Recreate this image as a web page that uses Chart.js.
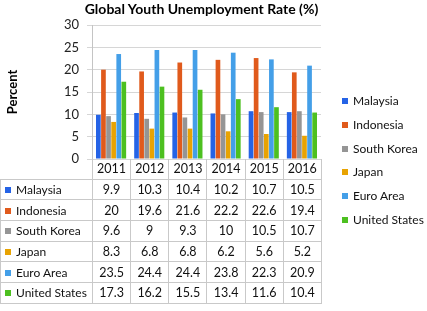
<!DOCTYPE html>
<html lang="en">
<head>
    <meta charset="UTF-8">
    <title>Global Youth Unemployment Rate (%)</title>
    <script src="https://cdn.jsdelivr.net/npm/chart.js@4.4.0/dist/chart.umd.min.js"></script>
    <style>
        body {
            margin: 0;
            background: #ffffff;
            font-family: Lato, "Open Sans", sans-serif;
        }
        #wrap {
            position: relative;
            width: 427px;
            height: 311px;
            overflow: hidden;
        }
        #title {
            position: absolute;
            left: 0;
            width: 403px;
            top: 0;
            text-align: center;
            font-weight: bold;
            font-size: 14px;
            line-height: 18px;
            color: #000;
        }
        #chartBox {
            position: absolute;
            left: 0;
            top: 0;
            width: 427px;
            height: 311px;
        }
        #dataTable {
            position: absolute;
            left: 0;
            top: 159px;
            border-collapse: collapse;
            table-layout: fixed;
            font-size: 12.5px;
            color: #111;
        }
        #dataTable td {
            border: 1px solid #c9c9c9;
            padding: 0;
            height: 19.7px;
            text-align: center;
            white-space: nowrap;
            overflow: hidden;
        }
        #dataTable td.name {
            text-align: left;
            padding-left: 4px;
            font-size: 12px;
        }
        #dataTable tr.head td {
            border-top: none;
        }
        #dataTable td.corner {
            border-left: none;
        }
        .swatch {
            display: inline-block;
            width: 6px;
            height: 6px;
            margin-right: 5px;
            vertical-align: 1px;
        }
        #legend {
            position: absolute;
            left: 342px;
            top: 91px;
            margin: 0;
            padding: 0;
            list-style: none;
            font-size: 12px;
            color: #111;
        }
        #legend li {
            height: 23.8px;
            line-height: 20px;
            white-space: nowrap;
        }
    </style>
</head>
<body>
<div id="wrap">
    <div id="chartBox"><canvas id="youthChart"></canvas></div>
    <div id="title">Global Youth Unemployment Rate (%)</div>
    <table id="dataTable"></table>
    <ul id="legend"></ul>
</div>
<script>
    const years = ['2011', '2012', '2013', '2014', '2015', '2016'];
    const malaysia = [9.9, 10.3, 10.4, 10.2, 10.7, 10.5];
    const indonesia = [20, 19.6, 21.6, 22.2, 22.6, 19.4];
    const southKorea = [9.6, 9, 9.3, 10, 10.5, 10.7];
    const japan = [8.3, 6.8, 6.8, 6.2, 5.6, 5.2];
    const euroArea = [23.5, 24.4, 24.4, 23.8, 22.3, 20.9];
    const unitedStates = [17.3, 16.2, 15.5, 13.4, 11.6, 10.4];
    const yTicks = [0, 5, 10, 15, 20, 25, 30];

    const seriesNames = ['Malaysia', 'Indonesia', 'South Korea', 'Japan', 'Euro Area', 'United States'];
    const seriesData = [malaysia, indonesia, southKorea, japan, euroArea, unitedStates];
    const seriesColors = ['#2563e6', '#e05a1c', '#959595', '#e8a302', '#449fe8', '#4dc020'];

    const datasets = seriesNames.map((name, i) => ({
        label: name,
        data: seriesData[i],
        backgroundColor: seriesColors[i],
        borderWidth: 0,
        categoryPercentage: 0.8,
        barPercentage: 0.92
    }));

    const ctx = document.getElementById('youthChart').getContext('2d');
    const youthChart = new Chart(ctx, {
        type: 'bar',
        data: { labels: years, datasets: datasets },
        options: {
            responsive: true,
            maintainAspectRatio: false,
            animation: false,
            layout: {
                padding: { left: 0, top: 25, right: 106, bottom: 152 }
            },
            plugins: {
                legend: { display: false },
                title: { display: false },
                tooltip: { enabled: false }
            },
            scales: {
                x: {
                    display: false
                },
                y: {
                    min: 0,
                    max: 30,
                    afterFit: (scale) => { scale.width = 92; },
                    afterBuildTicks: (scale) => {
                        scale.ticks = yTicks.map(v => ({ value: v }));
                    },
                    grid: {
                        color: '#d6d6d6',
                        tickLength: 5
                    },
                    border: { color: '#c4c4c4' },
                    ticks: {
                        padding: 8,
                        color: '#222',
                        font: { family: 'Lato', size: 13 }
                    },
                    title: {
                        display: true,
                        text: 'Percent',
                        color: '#000',
                        padding: { top: 5, bottom: 0 },
                        font: { family: 'Lato', size: 13, weight: 'bold' }
                    }
                }
            }
        }
    });

    // data table under the plot
    function buildTable() {
        const table = document.getElementById('dataTable');
        const colW = 229 / years.length;
        let html = '<colgroup><col style="width:92px">';
        years.forEach(() => { html += '<col style="width:' + colW + 'px">'; });
        html += '</colgroup>';
        html += '<tr class="head"><td class="corner"></td>';
        years.forEach(y => { html += '<td>' + y + '</td>'; });
        html += '</tr>';
        seriesNames.forEach((name, i) => {
            html += '<tr><td class="name"><span class="swatch" style="background:' + seriesColors[i] + '"></span>' + name + '</td>';
            seriesData[i].forEach(v => { html += '<td>' + v + '</td>'; });
            html += '</tr>';
        });
        table.innerHTML = html;
        table.style.width = '321px';
    }

    // legend on the right, built from the chart's datasets
    function buildLegend() {
        const ul = document.getElementById('legend');
        youthChart.data.datasets.forEach(ds => {
            const li = document.createElement('li');
            li.innerHTML = '<span class="swatch" style="background:' + ds.backgroundColor + '"></span>' + ds.label;
            ul.appendChild(li);
        });
    }

    buildTable();
    buildLegend();
</script>
</body>
</html>
